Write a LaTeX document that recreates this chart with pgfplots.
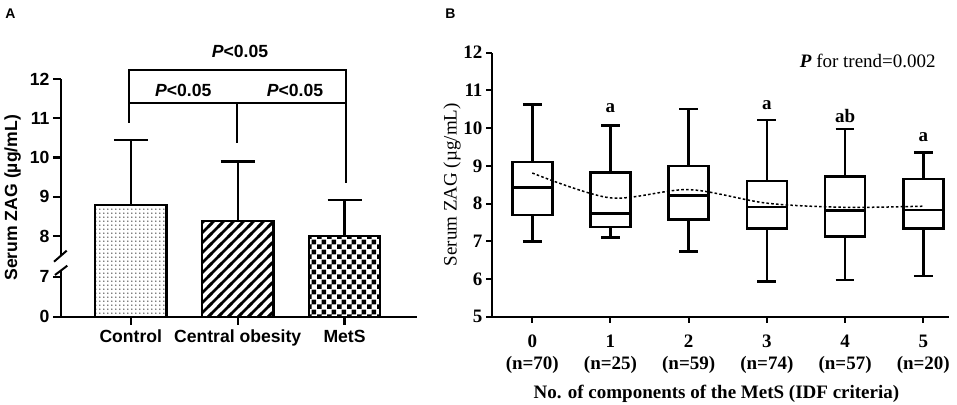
\documentclass[border=0pt]{standalone}
\usepackage{fontspec}
\setmainfont{Liberation Serif}
\newfontfamily\arial{Liberation Sans}
\usepackage{pgfplots}
\pgfplotsset{compat=1.18}
\usepgfplotslibrary{statistics}
\usetikzlibrary{patterns}

\pgfdeclarepatternformonly{mydots}{\pgfpointorigin}{\pgfpoint{4.3bp}{4.3bp}}{\pgfpoint{4.3bp}{4.3bp}}{\pgfpathcircle{\pgfpoint{2.15bp}{2.15bp}}{0.8bp}\pgfusepath{fill}}
\pgfdeclarepatternformonly{mystripes}{\pgfpoint{-3bp}{-3bp}}{\pgfpoint{13bp}{13bp}}{\pgfpoint{10bp}{10bp}}{\pgfsetlinewidth{2.8bp}\pgfpathmoveto{\pgfpoint{-2bp}{-2bp}}\pgfpathlineto{\pgfpoint{12bp}{12bp}}\pgfusepath{stroke}}
\pgfdeclarepatternformonly{mychecker}{\pgfpointorigin}{\pgfpoint{9.6bp}{9.6bp}}{\pgfpoint{9.6bp}{9.6bp}}{\pgfpathrectangle{\pgfpointorigin}{\pgfpoint{4.8bp}{4.8bp}}\pgfpathrectangle{\pgfpoint{4.8bp}{4.8bp}}{\pgfpoint{4.8bp}{4.8bp}}\pgfusepath{fill}}

\newcommand\fA{\arial\bfseries\fontsize{17.6bp}{21bp}\selectfont}
\newcommand\fAp{\arial\bfseries\fontsize{14bp}{17bp}\selectfont}
\newcommand\fB{\bfseries\fontsize{19bp}{22bp}\selectfont}
\newcommand\fBr{\fontsize{19bp}{22bp}\selectfont}

\begin{document}
\begin{tikzpicture}
\useasboundingbox (0,0) rectangle (957bp,405bp);

% ---------------- Panel A ----------------
\begin{axis}[
  at={(61bp,88.3bp)}, anchor=south west,
  scale only axis, width=356bp, height=237.7bp,
  xmin=-0.653, xmax=2.678, ymin=0, ymax=6.05,
  axis lines=left, axis line style={-, line width=2.2bp, black},
  xtick={0,1,2}, xticklabels={Control, Central obesity, MetS},
  ytick={0,1.02,2.05,3.05,4.05,5.05,6.05}, yticklabels={0,7,8,9,10,11,12},
  tick align=outside, major tick length=8bp,
  tick style={line width=2.2bp, black},
  ticklabel style={font=\fA},
  xticklabel style={yshift=-2bp},
  ylabel={Serum ZAG (µg/mL)},
  ylabel style={font=\fA, at={(axis description cs:-0.136,0.5)}, anchor=center},
  clip=false,
]
\addplot[ybar, bar width=0.67, bar shift=0pt, draw=black, line width=2.2bp, pattern=mydots,
  error bars/.cd, y dir=plus, y explicit,
  error bar style={line width=2.2bp, black},
  error mark options={rotate=90, black, line width=2.2bp, mark size=17bp}]
  table[x=x, y expr=\thisrow{m}-5.95, y error=e] {
x m e
0 8.80 1.65
};
\addplot[ybar, bar width=0.67, bar shift=0pt, draw=black, line width=2.2bp, pattern=mystripes,
  error bars/.cd, y dir=plus, y explicit,
  error bar style={line width=2.2bp, black},
  error mark options={rotate=90, black, line width=2.2bp, mark size=17bp}]
  table[x=x, y expr=\thisrow{m}-5.95, y error=e] {
x m e
1 8.38 1.52
};
\addplot[ybar, bar width=0.67, bar shift=0pt, draw=black, line width=2.2bp, pattern=mychecker,
  error bars/.cd, y dir=plus, y explicit,
  error bar style={line width=2.2bp, black},
  error mark options={rotate=90, black, line width=2.2bp, mark size=17bp}]
  table[x=x, y expr=\thisrow{m}-5.95, y error=e] {
x m e
2 8.00 0.92
};
\end{axis}

% axis break
\fill[white] (57bp,135bp) rectangle (65bp,149bp);
\draw[line width=2bp] (54bp,143.3bp) -- (66.7bp,154.3bp);
\draw[line width=2bp] (55bp,130bp) -- (67.3bp,139.3bp);

% significance brackets
\draw[line width=2.2bp] (129.3bp,302.3bp) rectangle (346bp,335bp);
\draw[line width=2.2bp] (129.3bp,302.3bp) -- (129.3bp,282.3bp);
\draw[line width=2.2bp] (236.7bp,302.3bp) -- (236.7bp,261.7bp);
\draw[line width=2.2bp] (346bp,302.3bp) -- (346bp,222bp);
\node[font=\fA] at (240bp,353.3bp) {\textit{P}<0.05};
\node[font=\fA] at (183.3bp,315bp) {\textit{P}<0.05};
\node[font=\fA] at (295bp,315bp) {\textit{P}<0.05};
\node[font=\fAp] at (10.5bp,391bp) {A};

% ---------------- Panel B ----------------
\begin{axis}[
  at={(492bp,88.3bp)}, anchor=south west,
  scale only axis, width=457bp, height=264bp,
  xmin=-0.515, xmax=5.329, ymin=5, ymax=12,
  axis lines=left, axis line style={-, line width=2bp, black},
  xtick={0,1,2,3,4,5},
  xticklabels={{0\\(n=70)},{1\\(n=25)},{2\\(n=59)},{3\\(n=74)},{4\\(n=57)},{5\\(n=20)}},
  xticklabel style={align=center, font=\fB, yshift=-9bp},
  ytick={5,6,7,8,9,10,11,12},
  yticklabel style={font=\fB},
  /pgf/number format/assume math mode=true,
  tick align=outside, major tick length=6bp,
  tick style={line width=2bp, black},
  xlabel={No. of components of the MetS (IDF criteria)},
  xlabel style={font=\fB, at={(axis description cs:0.491,-0.293)}, anchor=center},
  ylabel={Serum ZAG (µg/mL)},
  ylabel style={font=\fBr, at={(axis description cs:-0.0875,0.5)}, anchor=center},
  clip=false,
  boxplot/draw direction=y,
]
\addplot[black, solid, line width=2.6bp, boxplot prepared={median=8.43, upper quartile=9.10, lower quartile=7.70, upper whisker=10.62, lower whisker=7.00, draw position=0, box extend=0.51, whisker extend=0.24}] coordinates {};
\addplot[black, solid, line width=2.6bp, boxplot prepared={median=7.73, upper quartile=8.82, lower quartile=7.38, upper whisker=10.07, lower whisker=7.10, draw position=1, box extend=0.51, whisker extend=0.24}] coordinates {};
\addplot[black, solid, line width=2.6bp, boxplot prepared={median=8.21, upper quartile=9.00, lower quartile=7.57, upper whisker=10.51, lower whisker=6.73, draw position=2, box extend=0.51, whisker extend=0.24}] coordinates {};
\addplot[black, solid, line width=2.6bp, boxplot prepared={median=7.91, upper quartile=8.60, lower quartile=7.34, upper whisker=10.22, lower whisker=5.93, draw position=3, box extend=0.51, whisker extend=0.24}] coordinates {};
\addplot[black, solid, line width=2.6bp, boxplot prepared={median=7.81, upper quartile=8.72, lower quartile=7.13, upper whisker=9.98, lower whisker=5.97, draw position=4, box extend=0.51, whisker extend=0.24}] coordinates {};
\addplot[black, solid, line width=2.6bp, boxplot prepared={median=7.83, upper quartile=8.65, lower quartile=7.34, upper whisker=9.36, lower whisker=6.08, draw position=5, box extend=0.51, whisker extend=0.24}] coordinates {};
\addplot[black, line width=1.5bp, dash pattern=on 2.6bp off 2.2bp, smooth, tension=0.5] coordinates {
(0,8.81) (1,8.15) (2,8.37) (3,8.01) (4,7.90) (5,7.93)};
\node[font=\fB] at (axis cs:1,10.54) {a};
\node[font=\fB] at (axis cs:3,10.61) {a};
\node[font=\fB] at (axis cs:4,10.33) {ab};
\node[font=\fB] at (axis cs:5,9.77) {a};
\node[font=\fBr] at (axis cs:4.29,11.78) {\textbf{\textit{P}} for trend=0.002};
\end{axis}
\node[font=\fAp] at (450.5bp,391bp) {B};
\end{tikzpicture}
\end{document}
